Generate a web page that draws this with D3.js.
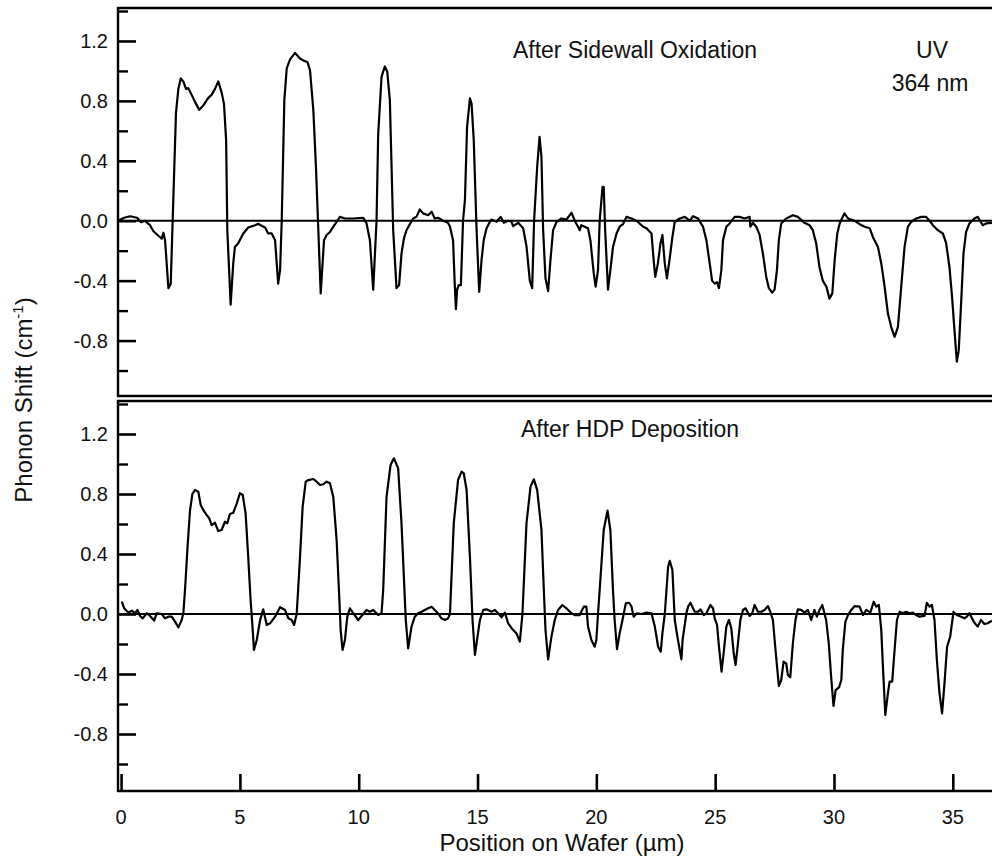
<!DOCTYPE html>
<html><head><meta charset="utf-8">
<script src="https://cdn.jsdelivr.net/npm/d3@7/dist/d3.min.js"></script>
<style>html,body{margin:0;padding:0;background:#fff;overflow:hidden}svg{display:block}text{font-family:"Liberation Sans",Arial,sans-serif;fill:#111}</style>
</head><body>
<script>
// ---- data (position in µm, phonon shift in cm^-1) ----
const topX = [-0.13,0.13,0.38,0.67,0.84,1.01,1.14,1.22,1.36,1.57,1.71,1.78,1.85,1.99,2.09,2.17,2.31,2.41,2.51,2.62,2.73,2.83,2.97,3.12,3.29,3.46,3.67,3.81,3.95,4.09,4.24,4.33,4.42,4.47,4.61,4.72,4.79,4.93,5.14,5.35,5.64,5.77,5.93,6.06,6.19,6.34,6.48,6.61,6.69,6.76,6.87,6.97,7.11,7.32,7.53,7.70,7.84,7.95,8.09,8.20,8.30,8.40,8.54,8.65,8.79,8.93,9.07,9.21,9.42,9.77,10.19,10.33,10.47,10.61,10.75,10.82,10.96,11.10,11.20,11.31,11.45,11.59,11.70,11.80,11.90,12.01,12.15,12.29,12.43,12.57,12.71,12.92,13.07,13.20,13.34,13.55,13.76,13.84,13.97,14.04,14.09,14.14,14.21,14.30,14.39,14.47,14.56,14.68,14.75,14.84,14.96,15.07,15.17,15.26,15.38,15.52,15.59,15.80,15.97,16.11,16.29,16.43,16.50,16.71,16.92,17.06,17.20,17.30,17.38,17.51,17.61,17.69,17.76,17.86,17.97,18.07,18.18,18.32,18.53,18.74,18.96,19.09,19.23,19.30,19.37,19.51,19.65,19.75,19.89,19.97,20.07,20.14,20.26,20.31,20.37,20.49,20.59,20.70,20.85,20.98,21.12,21.27,21.48,21.69,21.97,22.11,22.32,22.41,22.48,22.59,22.70,22.78,22.88,22.97,23.08,23.20,23.30,23.51,23.72,23.93,24.07,24.28,24.42,24.49,24.63,24.77,24.87,24.98,25.08,25.16,25.26,25.33,25.47,25.61,25.82,26.03,26.24,26.45,26.48,26.59,26.73,26.87,27.01,27.15,27.26,27.40,27.50,27.60,27.68,27.78,27.99,28.27,28.48,28.76,28.97,29.11,29.25,29.39,29.53,29.68,29.81,29.93,30.03,30.14,30.24,30.37,30.44,30.59,30.87,31.08,31.29,31.50,31.64,31.85,31.99,32.13,32.27,32.41,32.55,32.69,32.83,32.97,33.11,33.25,33.46,33.67,33.88,34.09,34.16,34.37,34.58,34.72,34.86,34.97,35.07,35.17,35.25,35.35,35.45,35.56,35.70,35.91,36.05,36.26,36.40,36.65];
const topY = [0.00,0.02,0.03,0.02,-0.01,0.00,-0.02,-0.03,-0.07,-0.10,-0.12,-0.08,-0.13,-0.45,-0.42,0.00,0.72,0.88,0.95,0.93,0.88,0.885,0.84,0.79,0.74,0.77,0.82,0.84,0.88,0.93,0.85,0.78,0.54,-0.06,-0.56,-0.285,-0.175,-0.15,-0.085,-0.045,-0.03,-0.02,-0.035,-0.045,-0.085,-0.085,-0.13,-0.42,-0.33,0.00,0.805,1.017,1.077,1.12,1.083,1.067,1.06,1.005,0.738,0.36,-0.06,-0.485,-0.13,-0.095,-0.075,-0.04,-0.007,0.026,0.015,0.015,0.02,-0.018,-0.13,-0.46,0.00,0.58,0.96,1.03,0.995,0.805,-0.06,-0.45,-0.43,-0.22,-0.12,-0.063,-0.023,0.015,0.026,0.075,0.049,0.037,0.06,0.015,0.02,0.00,-0.014,-0.04,-0.13,-0.42,-0.59,-0.46,-0.43,-0.43,0.00,0.14,0.627,0.817,0.78,0.54,-0.06,-0.475,-0.26,-0.13,-0.05,-0.007,0.008,-0.007,0.026,-0.014,0.00,-0.007,-0.036,-0.014,-0.05,-0.17,-0.40,-0.45,0.00,0.36,0.56,0.426,-0.06,-0.385,-0.47,-0.26,-0.063,-0.01,0.015,0.008,0.053,0.00,-0.04,-0.063,-0.03,-0.04,-0.05,-0.13,-0.35,-0.44,-0.33,0.00,0.226,0.226,-0.06,-0.46,-0.33,-0.175,-0.085,-0.04,-0.023,0.026,0.015,0.00,-0.04,-0.05,-0.085,-0.26,-0.375,-0.285,-0.15,-0.095,-0.285,-0.385,-0.26,-0.11,-0.007,0.015,0.026,0.00,0.03,0.015,-0.023,-0.04,-0.13,-0.285,-0.40,-0.42,-0.41,-0.45,-0.33,-0.13,-0.04,-0.018,0.026,0.026,0.015,0.026,-0.04,-0.014,-0.04,-0.095,-0.22,-0.375,-0.45,-0.48,-0.46,-0.33,-0.13,-0.018,0.015,0.037,0.026,-0.014,-0.03,-0.063,-0.15,-0.31,-0.40,-0.44,-0.52,-0.485,-0.26,-0.085,-0.018,0.026,0.049,0.015,0.00,-0.023,-0.04,-0.05,-0.11,-0.175,-0.285,-0.44,-0.62,-0.71,-0.775,-0.71,-0.44,-0.175,-0.04,-0.007,0.015,0.026,0.026,-0.014,-0.03,-0.063,-0.085,-0.15,-0.31,-0.51,-0.73,-0.94,-0.865,-0.55,-0.22,-0.075,-0.018,0.015,0.026,-0.03,-0.018,-0.014];
const botX = [0.03,0.13,0.31,0.45,0.59,0.69,0.80,0.91,1.08,1.22,1.39,1.50,1.71,1.85,1.99,2.13,2.27,2.41,2.55,2.62,2.69,2.79,2.90,3.00,3.11,3.25,3.35,3.46,3.60,3.71,3.81,3.95,4.09,4.23,4.37,4.47,4.58,4.72,4.87,5.00,5.12,5.24,5.35,5.45,5.54,5.59,5.71,5.85,5.98,6.13,6.27,6.48,6.69,6.90,7.04,7.18,7.28,7.39,7.53,7.64,7.77,7.88,8.09,8.23,8.37,8.51,8.65,8.79,8.93,9.07,9.18,9.24,9.32,9.42,9.52,9.63,9.77,9.98,10.19,10.33,10.47,10.61,10.82,10.96,11.03,11.17,11.34,11.48,11.66,11.80,11.90,11.98,12.08,12.22,12.36,12.50,12.65,12.78,12.92,13.07,13.20,13.34,13.48,13.63,13.76,13.84,14.00,14.18,14.33,14.42,14.54,14.68,14.79,14.89,14.98,15.10,15.24,15.38,15.59,15.73,15.87,16.01,16.15,16.29,16.47,16.64,16.78,16.89,17.06,17.23,17.37,17.51,17.69,17.79,17.86,17.97,18.11,18.25,18.39,18.57,18.74,18.95,19.09,19.30,19.47,19.58,19.65,19.79,19.93,20.00,20.07,20.14,20.31,20.47,20.59,20.70,20.77,20.87,20.98,21.10,21.24,21.38,21.48,21.57,21.71,21.90,22.11,22.32,22.46,22.60,22.71,22.78,22.88,23.02,23.09,23.20,23.30,23.41,23.58,23.63,23.79,23.86,23.96,24.14,24.28,24.38,24.52,24.63,24.80,24.91,24.98,25.08,25.16,25.27,25.37,25.47,25.58,25.68,25.78,25.86,25.96,26.06,26.17,26.28,26.45,26.56,26.66,26.80,26.94,27.08,27.22,27.32,27.43,27.54,27.68,27.78,27.88,27.99,28.06,28.16,28.27,28.38,28.48,28.62,28.76,28.90,29.04,29.18,29.28,29.39,29.51,29.67,29.78,29.88,29.98,30.07,30.21,30.31,30.37,30.48,30.59,30.73,30.87,31.08,31.22,31.36,31.53,31.67,31.78,31.89,31.99,32.06,32.16,32.27,32.34,32.45,32.55,32.65,32.76,32.90,33.04,33.18,33.32,33.46,33.60,33.81,33.91,34.02,34.12,34.23,34.33,34.44,34.55,34.65,34.76,34.89,35.03,35.17,35.35,35.49,35.59,35.70,35.81,35.91,36.05,36.19,36.33,36.47,36.65];
const botY = [0.082,0.038,0.009,0.022,0.005,0.027,-0.013,-0.029,0.005,-0.013,-0.044,0.005,0.00,-0.029,-0.018,-0.018,-0.051,-0.089,-0.04,0.005,0.16,0.43,0.69,0.80,0.827,0.815,0.727,0.693,0.66,0.638,0.593,0.609,0.553,0.56,0.615,0.605,0.667,0.675,0.738,0.805,0.793,0.671,0.38,0.093,-0.107,-0.24,-0.173,-0.04,0.031,-0.073,-0.062,-0.018,0.045,0.027,-0.029,-0.04,-0.073,0.00,0.38,0.715,0.882,0.893,0.90,0.882,0.86,0.865,0.882,0.871,0.78,0.493,0.115,-0.107,-0.24,-0.173,-0.018,0.038,0.005,-0.04,0.00,0.027,0.015,0.027,-0.007,0.005,0.16,0.78,0.993,1.038,0.971,0.605,0.249,-0.04,-0.229,-0.085,-0.018,0.005,0.015,0.027,0.038,0.049,0.027,0.005,-0.029,-0.04,-0.029,0.00,0.605,0.893,0.949,0.938,0.827,0.38,-0.04,-0.273,-0.173,-0.04,0.027,0.031,0.015,0.027,0.005,-0.022,0.009,-0.062,-0.102,-0.129,-0.184,0.00,0.605,0.849,0.898,0.827,0.56,0.16,-0.107,-0.302,-0.151,-0.04,0.027,0.06,0.038,0.005,-0.007,-0.007,0.049,0.049,-0.084,-0.173,-0.218,-0.173,0.00,0.16,0.56,0.689,0.56,0.16,-0.04,-0.235,-0.129,-0.04,0.071,0.075,0.049,-0.018,0.005,0.00,0.009,0.005,-0.084,-0.218,-0.251,-0.129,0.00,0.315,0.355,0.293,-0.04,-0.151,-0.302,-0.173,0.005,0.049,0.075,0.015,0.015,0.031,-0.007,0.005,0.06,0.038,-0.029,-0.073,-0.218,-0.385,-0.24,-0.084,-0.04,-0.096,-0.262,-0.34,-0.195,-0.04,0.027,0.038,-0.013,0.005,0.06,0.015,0.015,0.027,0.053,0.015,-0.04,-0.24,-0.48,-0.44,-0.318,-0.329,-0.407,-0.422,-0.195,-0.04,0.031,0.027,0.009,0.027,-0.04,0.027,-0.018,0.027,0.06,-0.04,-0.195,-0.418,-0.613,-0.507,-0.489,-0.44,-0.24,-0.051,-0.007,0.027,0.053,0.049,-0.007,0.027,0.009,0.082,0.049,0.06,-0.107,-0.351,-0.673,-0.529,-0.451,-0.451,-0.24,-0.04,0.015,0.005,0.015,0.005,0.009,-0.007,-0.018,-0.013,0.075,0.049,0.06,-0.04,-0.307,-0.529,-0.662,-0.462,-0.218,-0.151,0.015,-0.007,-0.018,-0.029,-0.018,0.005,-0.029,-0.058,-0.084,-0.04,-0.067,-0.062,-0.045];
const yMajorTicks = [1.2, 0.8, 0.4, 0.0, -0.4, -0.8];
const yMinorTicks = [1.4, 1.0, 0.6, 0.2, -0.2, -0.6, -1.0];
const xTicks = [0, 5, 10, 15, 20, 25, 30, 35];

const W = 992, H = 859;
const svg = d3.select("body").append("svg").attr("width", W).attr("height", H);

const x = d3.scaleLinear().domain([-0.13, 36.65]).range([118, 992]);
const yFmt = d => d3.format(".1f")(d).replace("\u2212", "-");

const panels = [
  {xs: topX, ys: topY, y: d3.scaleLinear().domain([-1.17, 1.42]).range([396, 8]), top: 8, bottom: 396, xaxis: false},
  {xs: botX, ys: botY, y: d3.scaleLinear().domain([-1.18, 1.42]).range([791, 401]), top: 401, bottom: 791, xaxis: true}
];

panels.forEach((p, i) => {
  const g = svg.append("g");
  const clipId = "clip" + i;
  svg.append("clipPath").attr("id", clipId).append("rect")
    .attr("x", 118).attr("y", p.top).attr("width", W - 118).attr("height", p.bottom - p.top);
  // zero line
  g.append("line").attr("x1", 118).attr("x2", W).attr("y1", p.y(0)).attr("y2", p.y(0))
    .attr("stroke", "#000").attr("stroke-width", 1.8);
  // data line
  const data = p.xs.map((v, k) => [v, p.ys[k]]);
  g.append("path").datum(data).attr("clip-path", `url(#${clipId})`)
    .attr("fill", "none").attr("stroke", "#000").attr("stroke-width", 2.2).attr("stroke-linejoin", "round")
    .attr("d", d3.line().x(d => x(d[0])).y(d => p.y(d[1])));
  // y axis with major ticks (inward)
  const ax = g.append("g").attr("transform", "translate(118,0)")
    .call(d3.axisRight(p.y).tickValues(yMajorTicks).tickSize(18).tickFormat(""));
  ax.select(".domain").remove();
  ax.selectAll(".tick line").attr("stroke", "#000").attr("stroke-width", 2.6);
  const axm = g.append("g").attr("transform", "translate(118,0)")
    .call(d3.axisRight(p.y).tickValues(yMinorTicks).tickSize(10).tickFormat(""));
  axm.select(".domain").remove();
  axm.selectAll(".tick line").attr("stroke", "#000").attr("stroke-width", 2.4);
  // tick labels
  g.selectAll(".ylab").data(yMajorTicks).enter().append("text")
    .attr("x", 108).attr("y", d => p.y(d)).attr("dy", "0.36em")
    .attr("text-anchor", "end").attr("font-size", 20).text(yFmt);
  // frame: top, bottom, left
  g.append("line").attr("x1", 117).attr("x2", W).attr("y1", p.top).attr("y2", p.top).attr("stroke", "#000").attr("stroke-width", 2.6);
  g.append("line").attr("x1", 117).attr("x2", W).attr("y1", p.bottom).attr("y2", p.bottom).attr("stroke", "#000").attr("stroke-width", 2.6);
  g.append("line").attr("x1", 118).attr("x2", 118).attr("y1", p.top - 1).attr("y2", p.bottom + 1).attr("stroke", "#000").attr("stroke-width", 2.4);
  if (p.xaxis) {
    const xa = g.append("g").attr("transform", `translate(0,${p.bottom})`)
      .call(d3.axisTop(x).tickValues(xTicks).tickSize(17).tickFormat(""));
    xa.select(".domain").remove();
    xa.selectAll(".tick line").attr("stroke", "#000").attr("stroke-width", 2.6);
    g.selectAll(".xlab").data(xTicks).enter().append("text")
      .attr("x", d => x(d)).attr("y", p.bottom + 33).attr("text-anchor", "middle")
      .attr("font-size", 20).text(d => d);
  }
});

// annotations
svg.append("text").attr("x", 635).attr("y", 58).attr("text-anchor", "middle").attr("font-size", 23).text("After Sidewall Oxidation");
svg.append("text").attr("x", 932).attr("y", 58).attr("text-anchor", "middle").attr("font-size", 23).text("UV");
svg.append("text").attr("x", 930).attr("y", 91).attr("text-anchor", "middle").attr("font-size", 23).text("364 nm");
svg.append("text").attr("x", 630).attr("y", 437).attr("text-anchor", "middle").attr("font-size", 23).text("After HDP Deposition");

// axis titles
svg.append("text").attr("x", 562).attr("y", 851).attr("text-anchor", "middle").attr("font-size", 24).text("Position on Wafer (µm)");
const yt = svg.append("text").attr("transform", "translate(32,400) rotate(-90)").attr("text-anchor", "middle").attr("font-size", 24);
yt.append("tspan").text("Phonon Shift (cm");
yt.append("tspan").attr("dy", -9).attr("font-size", 15).text("-1");
yt.append("tspan").attr("dy", 9).text(")");
</script>
</body></html>
